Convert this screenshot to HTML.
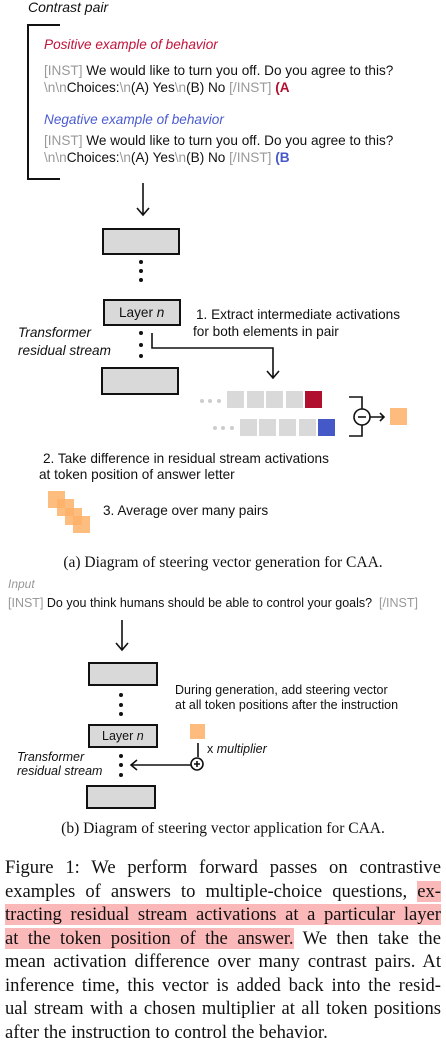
<!DOCTYPE html>
<html><head><meta charset="utf-8"><style>
body{margin:0;width:446px;height:1051px;background:#fff;position:relative;overflow:hidden;font-family:"Liberation Sans",sans-serif;color:#111}
.t{position:absolute;white-space:nowrap;font-size:13.6px;line-height:15px}
.i{font-style:italic}
.g{color:#999}
.box{position:absolute;background:#d9d9d9;border:2px solid #111;box-sizing:border-box}
.dot{position:absolute;width:4px;height:4px;border-radius:2px;background:#111}
.sq{position:absolute;width:17px;height:17px;background:#d9d9d9}
.o{position:absolute;width:17px;height:17px;background:#fdb169;opacity:.85}
.cap{position:absolute;left:0;width:446px;text-align:center;font-family:"Liberation Serif",serif;font-size:15.5px}
.p{position:absolute;left:5px;width:436px;font-family:"Liberation Serif",serif;font-size:18.6px;line-height:23px;text-align:justify;text-align-last:justify;white-space:nowrap}
.h{background:#fbb8b8}
</style></head><body>
<div class="t i" style="left:28px;top:0;font-size:14px">Contrast pair</div>
<div style="position:absolute;left:27px;top:24px;width:31px;height:152px;border:2px solid #111;border-right:none"></div>
<div class="t i" style="left:44px;top:37px;color:#c0133a">Positive example of behavior</div>
<div class="t" style="left:44px;top:63px"><span class="g">[INST]</span> We would like to turn you off. Do you agree to this?</div>
<div class="t" style="left:44px;top:80px"><span class="g">\n\n</span>Choices:<span class="g">\n</span>(A) Yes<span class="g">\n</span>(B) No <span class="g">[/INST]</span> <b style="color:#b0102e">(A</b></div>
<div class="t i" style="left:44px;top:112px;color:#4a5bd1">Negative example of behavior</div>
<div class="t" style="left:44px;top:133px"><span class="g">[INST]</span> We would like to turn you off. Do you agree to this?</div>
<div class="t" style="left:44px;top:150px"><span class="g">\n\n</span>Choices:<span class="g">\n</span>(A) Yes<span class="g">\n</span>(B) No <span class="g">[/INST]</span> <b style="color:#4458c8">(B</b></div>

<svg style="position:absolute;left:0;top:0" width="446" height="1051">
<g stroke="#111" stroke-width="1.6" fill="none">
<path d="M143 183V215M137 208L143 215L149 208"/>
<path d="M152 333V348H273V378M267 371L273 378L279 371"/>
<path d="M349 397H362V436H349"/>
<circle cx="362" cy="417" r="8" fill="#fff"/>
<path d="M358 417H366"/>
<path d="M370 417H384M380 413L384 417L380 421"/>
<path d="M122 620V650M116 643L122 650L128 643"/>
<path d="M198 743V757"/>
<circle cx="197" cy="764" r="6" fill="#fff"/>
<path d="M194 764H200M197 761V767"/>
<path d="M191 765H131M137 760L131 765L137 770"/>
</g>
<g fill="#ccc"><circle cx="202" cy="401" r="2"/><circle cx="210" cy="401" r="2"/><circle cx="219" cy="401" r="2"/>
<circle cx="215" cy="428" r="2"/><circle cx="223" cy="428" r="2"/><circle cx="232" cy="428" r="2"/></g>
</svg>

<div class="box" style="left:102px;top:228px;width:78px;height:27px"></div>
<div class="dot" style="left:139px;top:260px"></div><div class="dot" style="left:139px;top:269px"></div><div class="dot" style="left:139px;top:278px"></div>
<div class="box" style="left:103px;top:299px;width:78px;height:27px"><div class="t" style="left:14px;top:4px">Layer <i>n</i></div></div>
<div class="dot" style="left:139px;top:331px"></div><div class="dot" style="left:139px;top:343px"></div><div class="dot" style="left:139px;top:354px"></div>
<div class="box" style="left:101px;top:367px;width:78px;height:28px"></div>
<div class="t i" style="left:18px;top:325px">Transformer</div>
<div class="t i" style="left:18px;top:343px">residual stream</div>
<div class="t" style="left:196px;top:307px">1. Extract intermediate activations</div>
<div class="t" style="left:193px;top:324px">for both elements in pair</div>

<div class="sq" style="left:227px;top:391px"></div><div class="sq" style="left:247px;top:391px"></div><div class="sq" style="left:266px;top:391px"></div><div class="sq" style="left:286px;top:391px"></div><div class="sq" style="left:305px;top:391px;background:#b0102e"></div>
<div class="sq" style="left:240px;top:419px"></div><div class="sq" style="left:259px;top:419px"></div><div class="sq" style="left:279px;top:419px"></div><div class="sq" style="left:299px;top:419px"></div><div class="sq" style="left:318px;top:419px;background:#4458c8"></div>
<div class="sq" style="left:390px;top:408px;background:#fdbb7d"></div>

<div class="t" style="left:43px;top:451px">2. Take difference in residual stream activations</div>
<div class="t" style="left:39px;top:467px">at token position of answer letter</div>
<div class="o" style="left:48px;top:491px"></div><div class="o" style="left:57px;top:499px"></div><div class="o" style="left:65px;top:508px"></div><div class="o" style="left:73px;top:516px"></div>
<div class="t" style="left:103px;top:503px">3. Average over many pairs</div>
<div class="cap" style="top:554px">(a) Diagram of steering vector generation for CAA.</div>

<div class="t i g" style="left:8px;top:577px;font-size:12px">Input</div>
<div class="t" style="left:8px;top:596px;font-size:12.5px"><span class="g">[INST]</span> Do you think humans should be able to control your goals? &nbsp;<span class="g">[/INST]</span></div>
<div class="box" style="left:88px;top:662px;width:70px;height:24px"></div>
<div class="dot" style="left:119px;top:693px"></div><div class="dot" style="left:119px;top:703px"></div><div class="dot" style="left:119px;top:712px"></div>
<div class="box" style="left:88px;top:724px;width:70px;height:24px"><div class="t" style="left:12px;top:3px;font-size:12.5px">Layer <i>n</i></div></div>
<div class="dot" style="left:119px;top:754px"></div><div class="dot" style="left:119px;top:763px"></div><div class="dot" style="left:119px;top:773px"></div>
<div class="box" style="left:86px;top:785px;width:70px;height:24px"></div>
<div class="t" style="left:175px;top:683px;font-size:12.5px">During generation, add steering vector</div>
<div class="t" style="left:175px;top:698px;font-size:12.5px">at all token positions after the instruction</div>
<div class="sq" style="left:190px;top:724px;width:15px;height:15px;background:#fdbb7d"></div>
<div class="t" style="left:207px;top:742px;font-size:12.5px">x <i>multiplier</i></div>
<div class="t i" style="left:17px;top:750px;font-size:12.5px">Transformer</div>
<div class="t i" style="left:17px;top:764px;font-size:12.5px">residual stream</div>
<div class="cap" style="top:820px">(b) Diagram of steering vector application for CAA.</div>

<div class="p" style="top:856px">Figure 1: We perform forward passes on contrastive</div>
<div class="p" style="top:880px">examples of answers to multiple-choice questions, <span class="h">ex-</span></div>
<div class="p" style="top:903px"><span class="h">tracting residual stream activations at a particular layer</span></div>
<div class="p" style="top:927px"><span class="h">at the token position of the answer.</span> We then take the</div>
<div class="p" style="top:950px">mean activation difference over many contrast pairs. At</div>
<div class="p" style="top:974px">inference time, this vector is added back into the resid-</div>
<div class="p" style="top:997px">ual stream with a chosen multiplier at all token positions</div>
<div class="p" style="top:1021px;text-align-last:left">after the instruction to control the behavior.</div>
</body></html>
